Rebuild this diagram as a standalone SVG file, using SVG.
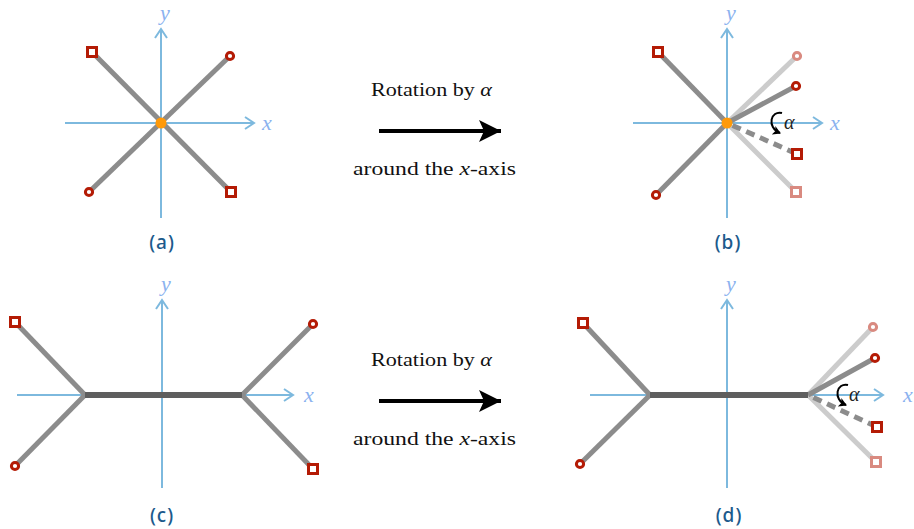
<svg xmlns="http://www.w3.org/2000/svg" width="914" height="529" viewBox="0 0 914 529">
<style>
.ax{stroke:#7db9de;stroke-width:2;fill:none}
.axl{font-family:"Liberation Serif",serif;font-style:italic;font-size:22px;fill:#8bb2ef}
.g{stroke:#8c8c8c;stroke-width:5;fill:none}
.lg{stroke:#cccccc;stroke-width:5;fill:none}
.dg{stroke:#8c8c8c;stroke-width:5;fill:none;stroke-dasharray:9 6}
.bar{stroke:#5e5e5e;stroke-width:6;fill:none}
.sq{fill:#fff;stroke:#b41b05;stroke-width:3}
.ci{fill:#fff;stroke:#b41b05;stroke-width:3}
.sql{fill:#fff;stroke:#d98a80;stroke-width:3}
.cil{fill:#fff;stroke:#d98a80;stroke-width:3}
.lab{font-family:"Noto Sans",sans-serif;font-size:19px;font-weight:500;letter-spacing:1px;fill:#1c5a8c;text-anchor:middle}
.txt{font-family:"Liberation Serif",serif;font-size:19px;fill:#111}
.al{font-family:"Liberation Serif",serif;font-style:italic;font-size:20px;fill:#222}
.rot{stroke:#000;stroke-width:2;fill:none}
</style>
<defs>
<marker id="chev" markerUnits="userSpaceOnUse" markerWidth="20" markerHeight="20" refX="10" refY="10" orient="auto" viewBox="0 0 20 20">
<path d="M1 4 L10 10 L1 16" fill="none" stroke="#7db9de" stroke-width="2"/>
</marker>
<marker id="big" markerUnits="userSpaceOnUse" markerWidth="30" markerHeight="30" refX="26" refY="15" orient="auto" viewBox="0 0 30 30">
<path d="M26 15 L4 4 L9 15 L4 26 Z" fill="#000"/>
</marker>
<marker id="small" markerUnits="userSpaceOnUse" markerWidth="12" markerHeight="12" refX="9" refY="6" orient="auto" viewBox="0 0 12 12">
<path d="M10 6 L2 1.5 L4 6 L2 10.5 Z" fill="#000"/>
</marker>
</defs>

<g id="panel-a">
<line class="ax" x1="65" y1="123" x2="254" y2="123" marker-end="url(#chev)"/>
<line class="ax" x1="161" y1="218" x2="161" y2="29" marker-end="url(#chev)"/>
<text class="axl" x="262" y="130">x</text>
<text class="axl" x="160" y="20">y</text>
<line class="g" x1="92" y1="52" x2="231" y2="192"/>
<line class="g" x1="230" y1="56" x2="89" y2="192"/>
<g id="a-sq1"><rect class="sq" x="87.5" y="47.5" width="9" height="9"/></g>
<g id="a-ci1"><circle class="ci" cx="230" cy="56" r="3.6"/></g>
<g id="a-ci2"><circle class="ci" cx="89" cy="192" r="3.6"/></g>
<g id="a-sq2"><rect class="sq" x="226.5" y="187.5" width="9" height="9"/></g>
<g id="a-center"><circle cx="161" cy="123" r="5.5" fill="#ff9a0a"/></g>
<text class="lab" x="162" y="249">(a)</text>
</g>

<g id="panel-b">
<line class="ax" x1="633" y1="123" x2="822" y2="123" marker-end="url(#chev)"/>
<line class="ax" x1="727" y1="218" x2="727" y2="29" marker-end="url(#chev)"/>
<text class="axl" x="830" y="130">x</text>
<text class="axl" x="726" y="20">y</text>
<line class="lg" x1="727" y1="123" x2="797" y2="56"/>
<line class="lg" x1="727" y1="123" x2="796" y2="192"/>
<line class="g" x1="658" y1="52" x2="727" y2="123"/>
<line class="g" x1="727" y1="123" x2="656" y2="195"/>
<line class="g" x1="727" y1="123" x2="796" y2="86"/>
<line class="dg" x1="727" y1="123" x2="797" y2="154" stroke-dashoffset="-6"/>
<g id="b-sq1"><rect class="sq" x="653.5" y="47.5" width="9" height="9"/></g>
<g id="b-ci1"><circle class="ci" cx="656" cy="195" r="3.6"/></g>
<g id="b-ci-old"><circle class="cil" cx="797" cy="56" r="3.6"/></g>
<g id="b-ci-new"><circle class="ci" cx="796" cy="86" r="3.6"/></g>
<g id="b-sq-new"><rect class="sq" x="792.5" y="149.5" width="9" height="9"/></g>
<g id="b-sq-old"><rect class="sql" x="791.5" y="187.5" width="9" height="9"/></g>
<g id="b-center"><circle cx="727" cy="123" r="5.5" fill="#ff9a0a"/></g>
<path class="rot" d="M782 113 C771 110 766 127 780 133" marker-end="url(#small)"/>
<text class="al" x="784" y="129">α</text>
<text class="lab" x="728" y="249">(b)</text>
</g>

<g id="panel-c">
<line class="ax" x1="17" y1="395" x2="293" y2="395" marker-end="url(#chev)"/>
<line class="ax" x1="162" y1="488" x2="162" y2="300" marker-end="url(#chev)"/>
<text class="axl" x="304" y="402">x</text>
<text class="axl" x="161" y="291">y</text>
<line class="g" x1="15" y1="322" x2="85" y2="395"/>
<line class="g" x1="85" y1="395" x2="15" y2="466"/>
<line class="g" x1="242" y1="395" x2="313" y2="324"/>
<line class="g" x1="242" y1="395" x2="313" y2="469"/>
<line class="bar" x1="85" y1="395" x2="242" y2="395"/>
<g id="c-sq1"><rect class="sq" x="10.5" y="317.5" width="9" height="9"/></g>
<g id="c-ci1"><circle class="ci" cx="15" cy="466" r="3.6"/></g>
<g id="c-ci2"><circle class="ci" cx="313" cy="324" r="3.6"/></g>
<g id="c-sq2"><rect class="sq" x="308.5" y="464.5" width="9" height="9"/></g>
<text class="lab" x="162" y="522">(c)</text>
</g>

<g id="panel-d">
<line class="ax" x1="590" y1="395" x2="883" y2="395" marker-end="url(#chev)"/>
<line class="ax" x1="727" y1="488" x2="727" y2="300" marker-end="url(#chev)"/>
<text class="axl" x="903" y="402">x</text>
<text class="axl" x="726" y="291">y</text>
<line class="lg" x1="808" y1="395" x2="873" y2="327"/>
<line class="lg" x1="808" y1="395" x2="876" y2="462"/>
<line class="g" x1="583" y1="323" x2="650" y2="395"/>
<line class="g" x1="650" y1="395" x2="580" y2="464"/>
<line class="g" x1="808" y1="395" x2="875" y2="358"/>
<line class="dg" x1="808" y1="395" x2="877" y2="427" stroke-dashoffset="-6"/>
<line class="bar" x1="650" y1="395" x2="808" y2="395"/>
<g id="d-sq1"><rect class="sq" x="578.5" y="318.5" width="9" height="9"/></g>
<g id="d-ci1"><circle class="ci" cx="580" cy="464" r="3.6"/></g>
<g id="d-ci-old"><circle class="cil" cx="873" cy="327" r="3.6"/></g>
<g id="d-ci-new"><circle class="ci" cx="875" cy="358" r="3.6"/></g>
<g id="d-sq-new"><rect class="sq" x="872.5" y="422.5" width="9" height="9"/></g>
<g id="d-sq-old"><rect class="sql" x="871.5" y="457.5" width="9" height="9"/></g>
<path class="rot" d="M848 385 C837 382 832 399 846 405" marker-end="url(#small)"/>
<text class="al" x="849" y="401">α</text>
<text class="lab" x="729" y="522">(d)</text>
</g>

<g id="connectors">
<g id="arrow-top">
<text class="txt" x="371" y="96" textLength="121" lengthAdjust="spacingAndGlyphs">Rotation by <tspan font-style="italic">α</tspan></text>
<line x1="379" y1="131" x2="501" y2="131" stroke="#000" stroke-width="4" marker-end="url(#big)"/>
<text class="txt" x="353" y="175" textLength="163" lengthAdjust="spacingAndGlyphs">around the <tspan font-style="italic">x</tspan>-axis</text>
</g>
<g id="arrow-bottom">
<text class="txt" x="371" y="366" textLength="121" lengthAdjust="spacingAndGlyphs">Rotation by <tspan font-style="italic">α</tspan></text>
<line x1="379" y1="401" x2="501" y2="401" stroke="#000" stroke-width="4" marker-end="url(#big)"/>
<text class="txt" x="353" y="445" textLength="163" lengthAdjust="spacingAndGlyphs">around the <tspan font-style="italic">x</tspan>-axis</text>
</g>
</g>
</svg>
